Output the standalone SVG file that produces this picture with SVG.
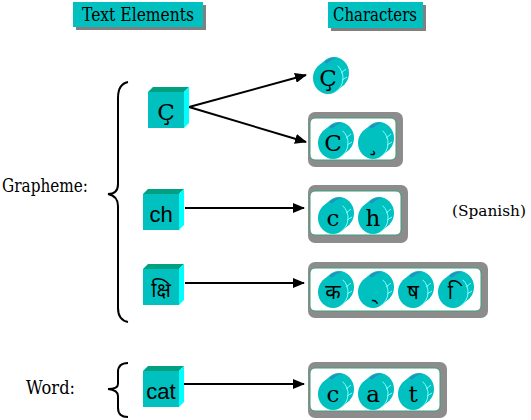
<svg xmlns="http://www.w3.org/2000/svg" xmlns:xlink="http://www.w3.org/1999/xlink" width="531" height="420" viewBox="0 0 531 420">
<style>
text{fill:#000}
.hdr{font-size:18px;text-anchor:middle}
.ct{font-size:23px;text-anchor:middle}
.dv{font-size:20px;text-anchor:middle}
.cube-t{font-size:22px;text-anchor:middle}
.con{stroke:#000;stroke-width:2;fill:none}
.brace{stroke:#000;stroke-width:2;fill:none}
</style>
<defs>
<marker id="ah" markerWidth="12" markerHeight="10" refX="11" refY="5" orient="auto" markerUnits="userSpaceOnUse">
<path d="M0,0 L12,5 L0,10 Z" fill="#000"/>
</marker>
<g id="cube">
<path d="M0,5 L5,0 L41,0 L36,5 Z" fill="#00A080"/>
<path d="M36,5 L41,0 L41,36 L36,41 Z" fill="#00FFFF"/>
<rect x="0" y="5" width="36" height="36" fill="#00C0C0"/>
</g>
<g id="cyl">
<ellipse cx="21" cy="17" rx="15" ry="16" fill="#00C0C0"/>
<path d="M4.4,10.7 L10.4,5.7 L31.6,28.3 L25.6,33.3 Z" fill="#00C0C0"/>
<ellipse cx="15" cy="22" rx="15" ry="16" fill="#00C0C0"/>
<path d="M11,6 Q16,1.5 24,1.5 Q18,3.5 14,7.5 Z" fill="#2A8FBF"/>
<path d="M24.6,9.7 A15,16 0 0 1 22.5,35.9" stroke="#80FFFF" stroke-width="1" fill="none"/>
<path d="M28,17 L33,13 M29,24 L34,21" stroke="#80FFFF" stroke-width="1" fill="none"/>
</g>
</defs>
<rect width="531" height="420" fill="#fff"/>

<g font-family="DejaVu Serif">
<g id="hdr-text">
<rect x="76" y="5" width="130" height="25" fill="#808080"/>
<rect x="73" y="2" width="130" height="25" fill="#00C0C0"/>
<text class="hdr" x="138" y="21" textLength="112" lengthAdjust="spacingAndGlyphs">Text Elements</text>
</g>
<g id="hdr-chars">
<rect x="331" y="5" width="95" height="26" fill="#808080"/>
<rect x="328" y="2" width="95" height="26" fill="#00C0C0"/>
<text class="hdr" x="375" y="21" textLength="84" lengthAdjust="spacingAndGlyphs">Characters</text>
</g>

<g id="grapheme-label">
<text x="2" y="192" font-size="18" textLength="86" lengthAdjust="spacingAndGlyphs">Grapheme:</text>
<path class="brace" d="M128,82 Q118,84 118,98 L118,184 Q118,194 108,194 Q118,196 118,206 L118,308 Q118,320 128,322"/>
</g>
<g id="word-label">
<text x="26" y="394" font-size="18" textLength="49" lengthAdjust="spacingAndGlyphs">Word:</text>
<path class="brace" d="M128,363 Q118,363 118,372 L118,384 Q118,389 108,389 Q118,390 118,396 L118,408 Q118,417 128,417"/>
</g>
<text x="452" y="216" font-size="14" textLength="74" lengthAdjust="spacingAndGlyphs" id="spanish">(Spanish)</text>

<g id="connectors">
<line class="con" x1="189" y1="107" x2="306" y2="75" marker-end="url(#ah)"/>
<line class="con" x1="189" y1="107" x2="306" y2="142" marker-end="url(#ah)"/>
<line class="con" x1="185" y1="208" x2="304" y2="208" marker-end="url(#ah)"/>
<line class="con" x1="185" y1="283" x2="304" y2="283" marker-end="url(#ah)"/>
<line class="con" x1="184" y1="384" x2="304" y2="384" marker-end="url(#ah)"/>
</g>

<g id="te-c-cedilla">
<use xlink:href="#cube" x="148" y="87"/>
<text x="166" y="120" font-size="23" text-anchor="middle">Ç</text>
</g>
<g id="te-ch">
<use xlink:href="#cube" x="143" y="189"/>
<text class="cube-t" x="161" y="222" font-family="Liberation Sans, Arial, sans-serif">ch</text>
</g>
<g id="te-kshi">
<use xlink:href="#cube" x="143" y="264"/>
<text class="dv" x="161" y="297" font-family="Noto Sans Devanagari, Noto Sans, sans-serif">क्षि</text>
</g>
<g id="te-cat">
<use xlink:href="#cube" x="143" y="366"/>
<text class="cube-t" x="161" y="399" font-family="Liberation Sans, Arial, sans-serif">cat</text>
</g>

<g id="ch-c-cedilla">
<use xlink:href="#cyl" x="313" y="56"/>
<text class="ct" x="328" y="86">Ç</text>
</g>

<g id="box-c-cedilla">
<rect x="308" y="112" width="95" height="55" rx="7" fill="#8C8C8C"/>
<rect x="310" y="118" width="86" height="42" rx="5" fill="#fff" stroke="#3C9C7C" stroke-width="1"/>
<use xlink:href="#cyl" x="318" y="121"/>
<text class="ct" x="333" y="151">C</text>
<use xlink:href="#cyl" x="358" y="121"/>
<text class="ct" x="373" y="151">¸</text>
</g>

<g id="box-ch">
<rect x="308" y="185" width="100" height="58" rx="7" fill="#8C8C8C"/>
<rect x="310" y="191" width="91" height="44" rx="5" fill="#fff" stroke="#3C9C7C" stroke-width="1"/>
<use xlink:href="#cyl" x="318" y="196"/>
<text class="ct" x="333" y="226">c</text>
<use xlink:href="#cyl" x="358" y="196"/>
<text class="ct" x="373" y="226">h</text>
</g>

<g id="box-kshi" font-family="Noto Sans Devanagari, Noto Sans, sans-serif">
<rect x="308" y="262" width="180" height="56" rx="7" fill="#8C8C8C"/>
<rect x="310" y="268" width="171" height="43" rx="5" fill="#fff" stroke="#3C9C7C" stroke-width="1"/>
<use xlink:href="#cyl" x="318" y="270"/>
<text class="dv" x="333" y="299">क</text>
<use xlink:href="#cyl" x="358" y="270"/>
<text class="dv" x="373" y="299">&#160;्</text>
<use xlink:href="#cyl" x="398" y="270"/>
<text class="dv" x="413" y="299">ष</text>
<use xlink:href="#cyl" x="438" y="270"/>
<text class="dv" x="453" y="299">&#160;ि</text>
</g>

<g id="box-cat">
<rect x="308" y="362" width="139" height="56" rx="7" fill="#8C8C8C"/>
<rect x="310" y="368" width="130" height="43" rx="5" fill="#fff" stroke="#3C9C7C" stroke-width="1"/>
<use xlink:href="#cyl" x="318" y="372"/>
<text class="ct" x="333" y="402">c</text>
<use xlink:href="#cyl" x="358" y="372"/>
<text class="ct" x="373" y="402">a</text>
<use xlink:href="#cyl" x="398" y="372"/>
<text class="ct" x="413" y="402">t</text>
</g>
</g>
</svg>
